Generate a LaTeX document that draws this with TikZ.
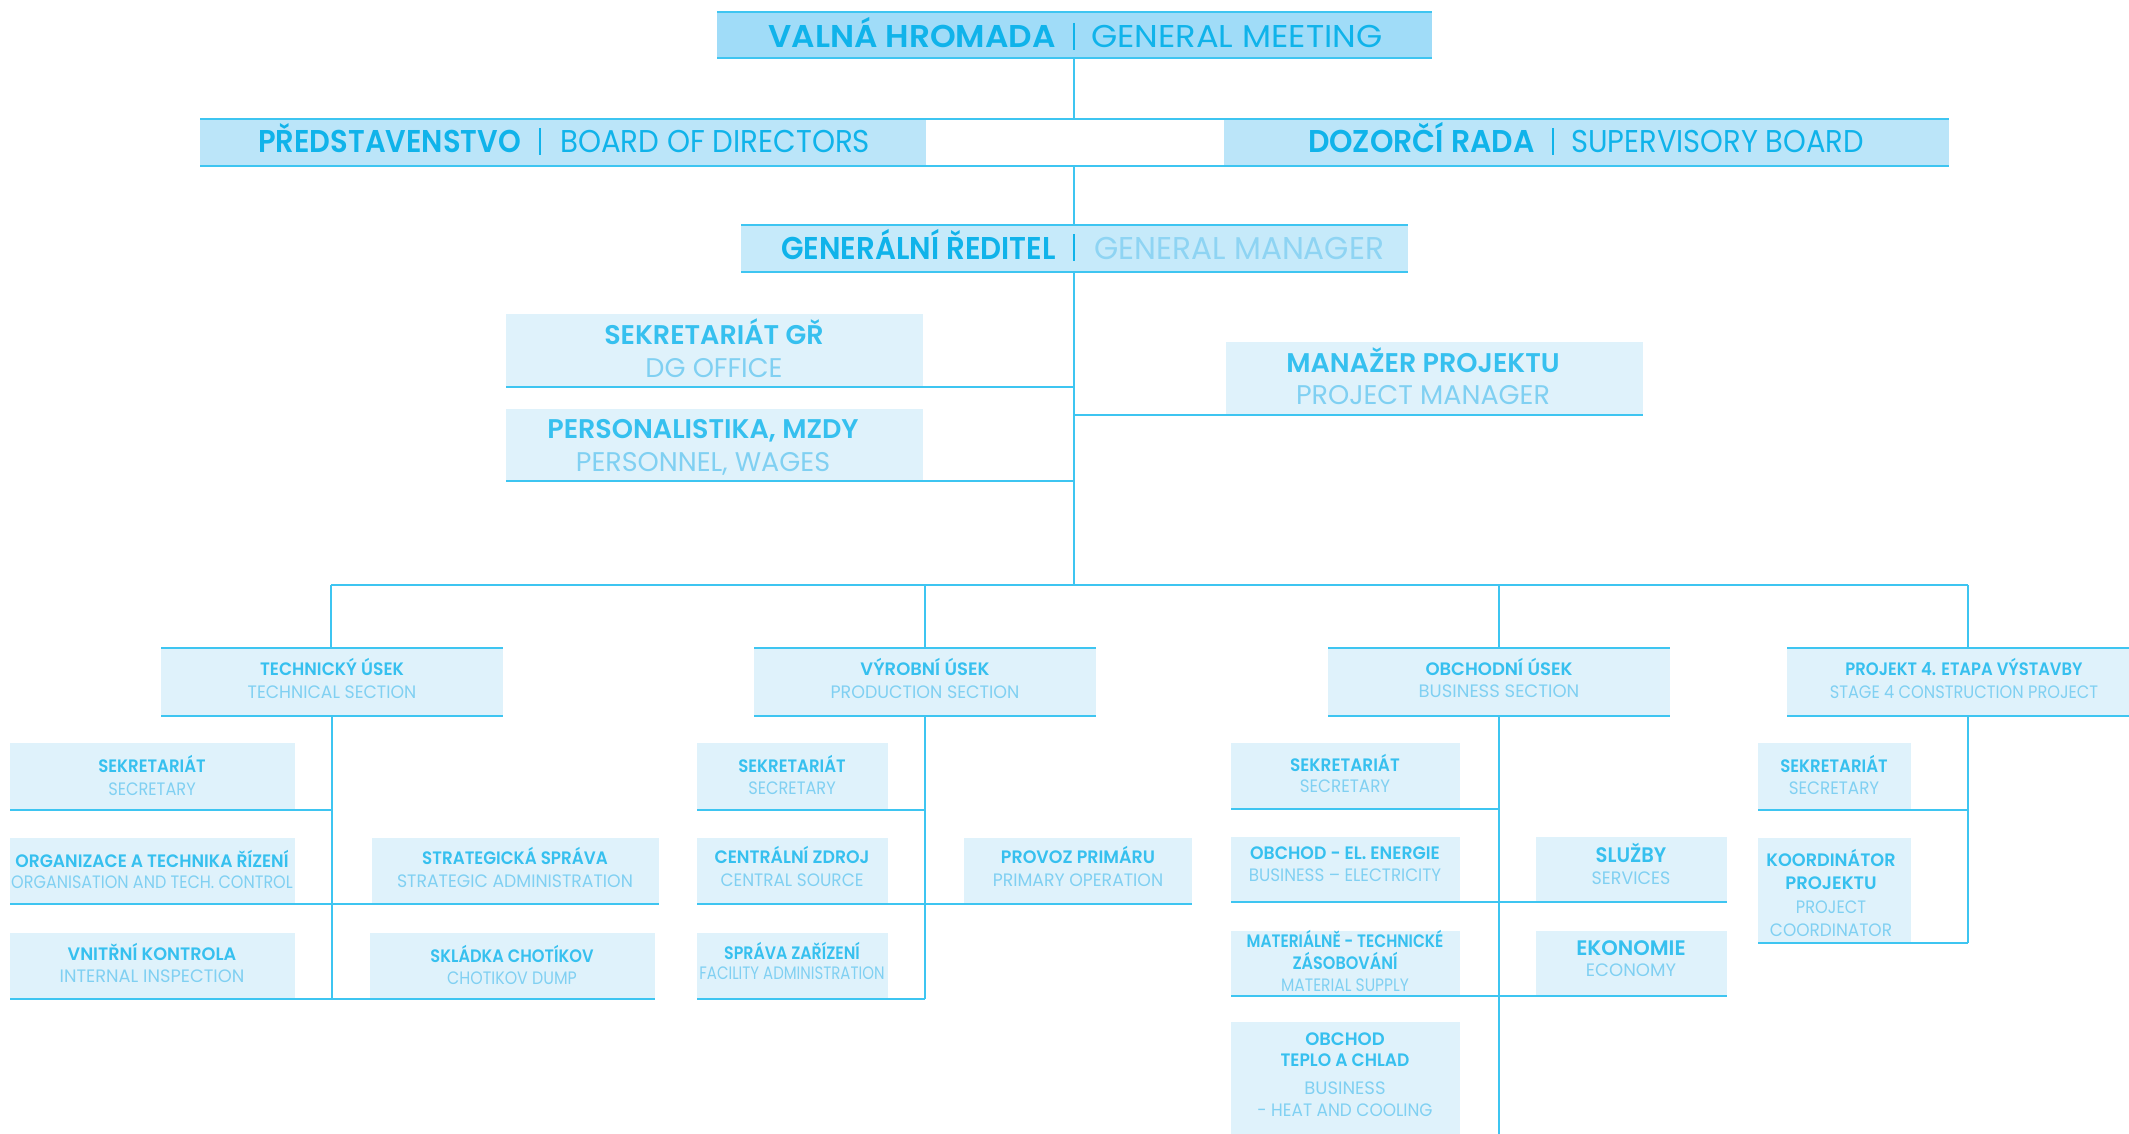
\documentclass[tikz,border=0pt]{standalone}
\usepackage{fontspec}
\usetikzlibrary{fit}
\setmainfont{Poppins}
\newfontfamily\czf{Poppins SemiBold}
\newfontfamily\enf{Poppins}
\definecolor{lineC}{HTML}{3EC5F1}
\definecolor{fillA}{HTML}{A0DCF8}
\definecolor{fillB}{HTML}{BBE5F9}
\definecolor{fillC}{HTML}{C6EAFA}
\definecolor{fillD}{HTML}{DFF2FB}
\definecolor{strongC}{HTML}{10B3EA}
\definecolor{gmEnC}{HTML}{8ED4F3}
\definecolor{czC}{HTML}{36C0EF}
\definecolor{enC}{HTML}{80D0F2}
\newcommand\tl[6]{\node[#2,anchor=base] (#1) at (#3,#4) {\scalebox{#5}[1]{#6}};}
\newcommand\fs[1]{\fontsize{#1}{#1}\selectfont}
\tikzset{
  conn/.style={draw=lineC, line width=1.3pt},
  thin/.style={draw=lineC, line width=1.5pt},
  edge/.style={draw=lineC, line width=2.6pt},
  divl/.style={draw=strongC, line width=1.2pt},
  bx/.style={inner sep=0pt, outer sep=0pt, draw=none},
  czT/.style={font=\czf\fs{31.5}, text=strongC, inner sep=0pt},
  enT/.style={font=\enf\fs{31.5}, text=strongC, inner sep=0pt},
  enG/.style={font=\enf\fs{31.5}, text=gmEnC, inner sep=0pt},
  czM/.style={font=\czf\fs{27}, text=czC, inner sep=0pt},
  enM/.style={font=\enf\fs{27}, text=enC, inner sep=0pt},
  czS/.style={font=\czf\fs{18}, text=czC, inner sep=0pt},
  enS/.style={font=\enf\fs{18}, text=enC, inner sep=0pt},
  czL/.style={font=\czf\fs{21}, text=czC, inner sep=0pt},
}
\begin{document}
\begin{tikzpicture}[x=1pt,y=-1pt]
\useasboundingbox[fill=white] (0,0) rectangle (2129,1134);

% ---------- top rows ----------
\node[bx, fill=fillA, fit={(717,12) (1432,58)}] (gmeet) {};
\draw[thin] (gmeet.north west) -- (gmeet.north east);
\draw[edge] (gmeet.south west) -- (gmeet.south east);
\node[czT, anchor=base east] (gmeet-cz) at (1056,48) {\scalebox{1.04}[1]{VALNÁ HROMADA}};
\draw[divl] (1074,23) -- (1074,50);
\node[enT, anchor=base west] (gmeet-en) at (1091,48) {\scalebox{1.07}[1]{GENERAL MEETING}};

\node[bx, fill=fillB, fit={(200,119) (926,166)}] (board) {};
\node[bx, fill=fillB, fit={(1224,119) (1949,166)}] (super) {};
\node[bx, fill=white, fit={(926,119) (1224,166)}] (mid) {};
\draw[thin] (board.north west) -- (super.north east);
\draw[edge] (board.south west) -- (board.south east);
\draw[edge] (super.south west) -- (super.south east);
\draw[conn] (mid.south west) -- (mid.south east);
\node[czT, anchor=base east] (board-cz) at (521,153) {\scalebox{0.92}[1]{PŘEDSTAVENSTVO}};
\draw[divl] (540,128) -- (540,155);
\node[enT, anchor=base west] (board-en) at (560,153) {\scalebox{0.93}[1]{BOARD OF DIRECTORS}};
\node[czT, anchor=base east] (super-cz) at (1535,153) {\scalebox{0.95}[1]{DOZORČÍ RADA}};
\draw[divl] (1553,128) -- (1553,155);
\node[enT, anchor=base west] (super-en) at (1571,153) {\scalebox{0.92}[1]{SUPERVISORY BOARD}};

\node[bx, fill=fillC, fit={(741,225) (1408,272)}] (gm) {};
\draw[thin] (gm.north west) -- (gm.north east);
\draw[edge] (gm.south west) -- (gm.south east);
\node[czT, anchor=base east] (gm-cz) at (1056,259) {\scalebox{0.93}[1]{GENERÁLNÍ ŘEDITEL}};
\draw[divl] (1074,234) -- (1074,261);
\node[enG, anchor=base west] (gm-en) at (1094,259) {\scalebox{0.99}[1]{GENERAL MANAGER}};

% ---------- level 2 ----------
\node[bx, fill=fillD, fit={(506,314) (923,387)}] (sgr) {};
\draw[edge] (sgr.south west) -- (sgr.south east);
\tl{sgr-cz}{czM}{714}{344}{1}{SEKRETARIÁT GŘ}
\tl{sgr-en}{enM}{714}{377}{1}{DG OFFICE}

\node[bx, fill=fillD, fit={(506,409) (923,481)}] (pers) {};
\draw[edge] (pers.south west) -- (pers.south east);
\tl{pers-cz}{czM}{703}{438}{1}{PERSONALISTIKA, MZDY}
\tl{pers-en}{enM}{703}{471}{1}{PERSONNEL, WAGES}

\node[bx, fill=fillD, fit={(1226,342) (1643,415)}] (mp) {};
\draw[edge] (mp.south west) -- (mp.south east);
\tl{mp-cz}{czM}{1423}{372}{1}{MANAŽER PROJEKTU}
\tl{mp-en}{enM}{1423}{404}{1}{PROJECT MANAGER}

% ---------- main spine ----------
\coordinate (sp1) at (1074,58);
\coordinate (sp2) at (1074,119);
\coordinate (sp3) at (1074,166);
\coordinate (sp4) at (1074,225);
\coordinate (sp5) at (1074,272);
\coordinate (busM) at (1074,585);
\draw[conn] (sp1) -- (sp2);
\draw[conn] (sp3) -- (sp4);
\draw[conn] (sp5) -- (busM);
\draw[conn] (sgr.south east) -- (sgr.south east -| busM);
\draw[conn] (pers.south east) -- (pers.south east -| busM);
\draw[conn] (mp.south west) -- (mp.south west -| busM);

% ---------- sections ----------
\node[bx, fill=fillD, fit={(161,648) (503,716)}] (tech) {};
\node[bx, fill=fillD, fit={(754,648) (1096,716)}] (prod) {};
\node[bx, fill=fillD, fit={(1328,648) (1670,716)}] (busi) {};
\node[bx, fill=fillD, fit={(1787,648) (2135,716)}] (proj) {};
\foreach \n in {tech,prod,busi,proj}{
  \draw[edge] (\n.north west) -- (\n.north east);
  \draw[edge] (\n.south west) -- (\n.south east);
}
\tl{tech-cz}{czS}{332}{675}{0.95}{TECHNICKÝ ÚSEK}
\tl{tech-en}{enS}{332}{698}{0.96}{TECHNICAL SECTION}
\tl{prod-cz}{czS}{925}{675}{1}{VÝROBNÍ ÚSEK}
\tl{prod-en}{enS}{925}{698}{0.97}{PRODUCTION SECTION}
\tl{busi-cz}{czS}{1499}{675}{1}{OBCHODNÍ ÚSEK}
\tl{busi-en}{enS}{1499}{697}{1}{BUSINESS SECTION}
\tl{proj-cz}{czS}{1964}{675}{0.91}{PROJEKT 4. ETAPA VÝSTAVBY}
\tl{proj-en}{enS}{1964}{698}{0.90}{STAGE 4 CONSTRUCTION PROJECT}

\coordinate (busL) at (331,585);
\coordinate (busP) at (925,585);
\coordinate (busB) at (1499,585);
\coordinate (busR) at (1968,585);
\draw[conn] (busL) -- (busR);
\draw[conn] (busL) -- (busL |- tech.north);
\draw[conn] (busP) -- (busP |- prod.north);
\draw[conn] (busB) -- (busB |- busi.north);
\draw[conn] (busR) -- (busR |- proj.north);

% ---------- technical ----------
\node[bx, fill=fillD, fit={(10,743) (295,810)}] (tsec) {};
\node[bx, fill=fillD, fit={(10,838) (295,904)}] (torg) {};
\node[bx, fill=fillD, fit={(10,933) (295,999)}] (tvk) {};
\node[bx, fill=fillD, fit={(372,838) (659,904)}] (tstr) {};
\node[bx, fill=fillD, fit={(370,933) (655,999)}] (tskl) {};
% ---------- production ----------
\node[bx, fill=fillD, fit={(697,743) (888,810)}] (psec) {};
\node[bx, fill=fillD, fit={(697,838) (888,904)}] (pcz) {};
\node[bx, fill=fillD, fit={(697,933) (888,999)}] (psz) {};
\node[bx, fill=fillD, fit={(964,838) (1192,904)}] (ppp) {};
% ---------- business ----------
\node[bx, fill=fillD, fit={(1231,743) (1460,809)}] (bsec) {};
\node[bx, fill=fillD, fit={(1231,837) (1460,902)}] (bel) {};
\node[bx, fill=fillD, fit={(1231,931) (1460,996)}] (bmat) {};
\node[bx, fill=fillD, fit={(1231,1022) (1460,1134)}] (btc) {};
\node[bx, fill=fillD, fit={(1536,837) (1727,902)}] (bsl) {};
\node[bx, fill=fillD, fit={(1536,931) (1727,996)}] (bek) {};
% ---------- project ----------
\node[bx, fill=fillD, fit={(1758,743) (1911,810)}] (jsec) {};
\node[bx, fill=fillD, fit={(1758,838) (1911,943)}] (jko) {};

\foreach \n in {tsec,torg,tvk,tstr,tskl,psec,pcz,psz,ppp,bsec,bel,bmat,bsl,bek,jsec,jko}{
  \draw[edge] (\n.south west) -- (\n.south east);
}

% connectors
\draw[conn] (tech.south) -- (tech.south |- tvk.south);
\draw[conn] (tsec.south east) -- (tsec.south east -| tech.south);
\draw[conn] (torg.south east) -- (tstr.south west);
\draw[conn] (tvk.south east) -- (tskl.south west);

\draw[conn] (prod.south) -- (prod.south |- psz.south);
\draw[conn] (psec.south east) -- (psec.south east -| prod.south);
\draw[conn] (pcz.south east) -- (ppp.south west);
\draw[conn] (psz.south east) -- (psz.south east -| prod.south);

\coordinate (bend) at (1499,1134);
\draw[conn] (busi.south) -- (bend);
\draw[conn] (bsec.south east) -- (bsec.south east -| busi.south);
\draw[conn] (bel.south east) -- (bsl.south west);
\draw[conn] (bmat.south east) -- (bek.south west);

\draw[conn] (busR |- proj.south) -- (busR |- jko.south);
\draw[conn] (jsec.south east) -- (jsec.south east -| busR);
\draw[conn] (jko.south east) -- (jko.south east -| busR);

% texts
\tl{tsec-cz}{czS}{152}{772}{0.92}{SEKRETARIÁT}
\tl{tsec-en}{enS}{152}{795}{0.90}{SECRETARY}
\tl{torg-cz}{czS}{152}{867}{0.95}{ORGANIZACE A TECHNIKA ŘÍZENÍ}
\tl{torg-en}{enS}{152}{888}{0.89}{ORGANISATION AND TECH. CONTROL}
\tl{tvk-cz}{czS}{152}{960}{0.98}{VNITŘNÍ KONTROLA}
\tl{tvk-en}{enS}{152}{982}{0.99}{INTERNAL INSPECTION}
\tl{tstr-cz}{czS}{515}{864}{0.93}{STRATEGICKÁ SPRÁVA}
\tl{tstr-en}{enS}{515}{887}{0.96}{STRATEGIC ADMINISTRATION}
\tl{tskl-cz}{czS}{512}{962}{0.90}{SKLÁDKA CHOTÍKOV}
\tl{tskl-en}{enS}{512}{984}{0.88}{CHOTIKOV DUMP}

\tl{psec-cz}{czS}{792}{772}{0.92}{SEKRETARIÁT}
\tl{psec-en}{enS}{792}{794}{0.90}{SECRETARY}
\tl{pcz-cz}{czS}{792}{863}{0.96}{CENTRÁLNÍ ZDROJ}
\tl{pcz-en}{enS}{792}{886}{0.94}{CENTRAL SOURCE}
\tl{psz-cz}{czS}{792}{959}{0.88}{SPRÁVA ZAŘÍZENÍ}
\tl{psz-en}{enS}{792}{979}{0.83}{FACILITY ADMINISTRATION}
\tl{ppp-cz}{czS}{1078}{863}{0.97}{PROVOZ PRIMÁRU}
\tl{ppp-en}{enS}{1078}{886}{0.96}{PRIMARY OPERATION}

\tl{bsec-cz}{czS}{1345}{771}{0.94}{SEKRETARIÁT}
\tl{bsec-en}{enS}{1345}{792}{0.93}{SECRETARY}
\tl{bel-cz}{czS}{1345}{859}{0.96}{OBCHOD - EL. ENERGIE}
\tl{bel-en}{enS}{1345}{881}{0.93}{BUSINESS – ELECTRICITY}
\tl{bmat-cz1}{czS}{1345}{947}{0.86}{MATERIÁLNĚ - TECHNICKÉ}
\tl{bmat-cz2}{czS}{1345}{969}{0.89}{ZÁSOBOVÁNÍ}
\tl{bmat-en}{enS}{1345}{991}{0.86}{MATERIAL SUPPLY}
\tl{btc-cz1}{czS}{1345}{1045}{1}{OBCHOD}
\tl{btc-cz2}{czS}{1345}{1066}{0.95}{TEPLO A CHLAD}
\tl{btc-en1}{enS}{1345}{1094}{1}{BUSINESS}
\tl{btc-en2}{enS}{1345}{1116}{0.94}{- HEAT AND COOLING}
\tl{bsl-cz}{czL}{1631}{862}{0.93}{SLUŽBY}
\tl{bsl-en}{enS}{1631}{884}{0.97}{SERVICES}
\tl{bek-cz}{czL}{1631}{955}{1}{EKONOMIE}
\tl{bek-en}{enS}{1631}{976}{1}{ECONOMY}

\tl{jsec-cz}{czS}{1834}{772}{0.92}{SEKRETARIÁT}
\tl{jsec-en}{enS}{1834}{794}{0.93}{SECRETARY}
\tl{jko-cz1}{czS}{1831}{866}{0.98}{KOORDINÁTOR}
\tl{jko-cz2}{czS}{1831}{889}{1}{PROJEKTU}
\tl{jko-en1}{enS}{1831}{913}{0.9}{PROJECT}
\tl{jko-en2}{enS}{1831}{936}{0.94}{COORDINATOR}
\end{tikzpicture}
\end{document}
